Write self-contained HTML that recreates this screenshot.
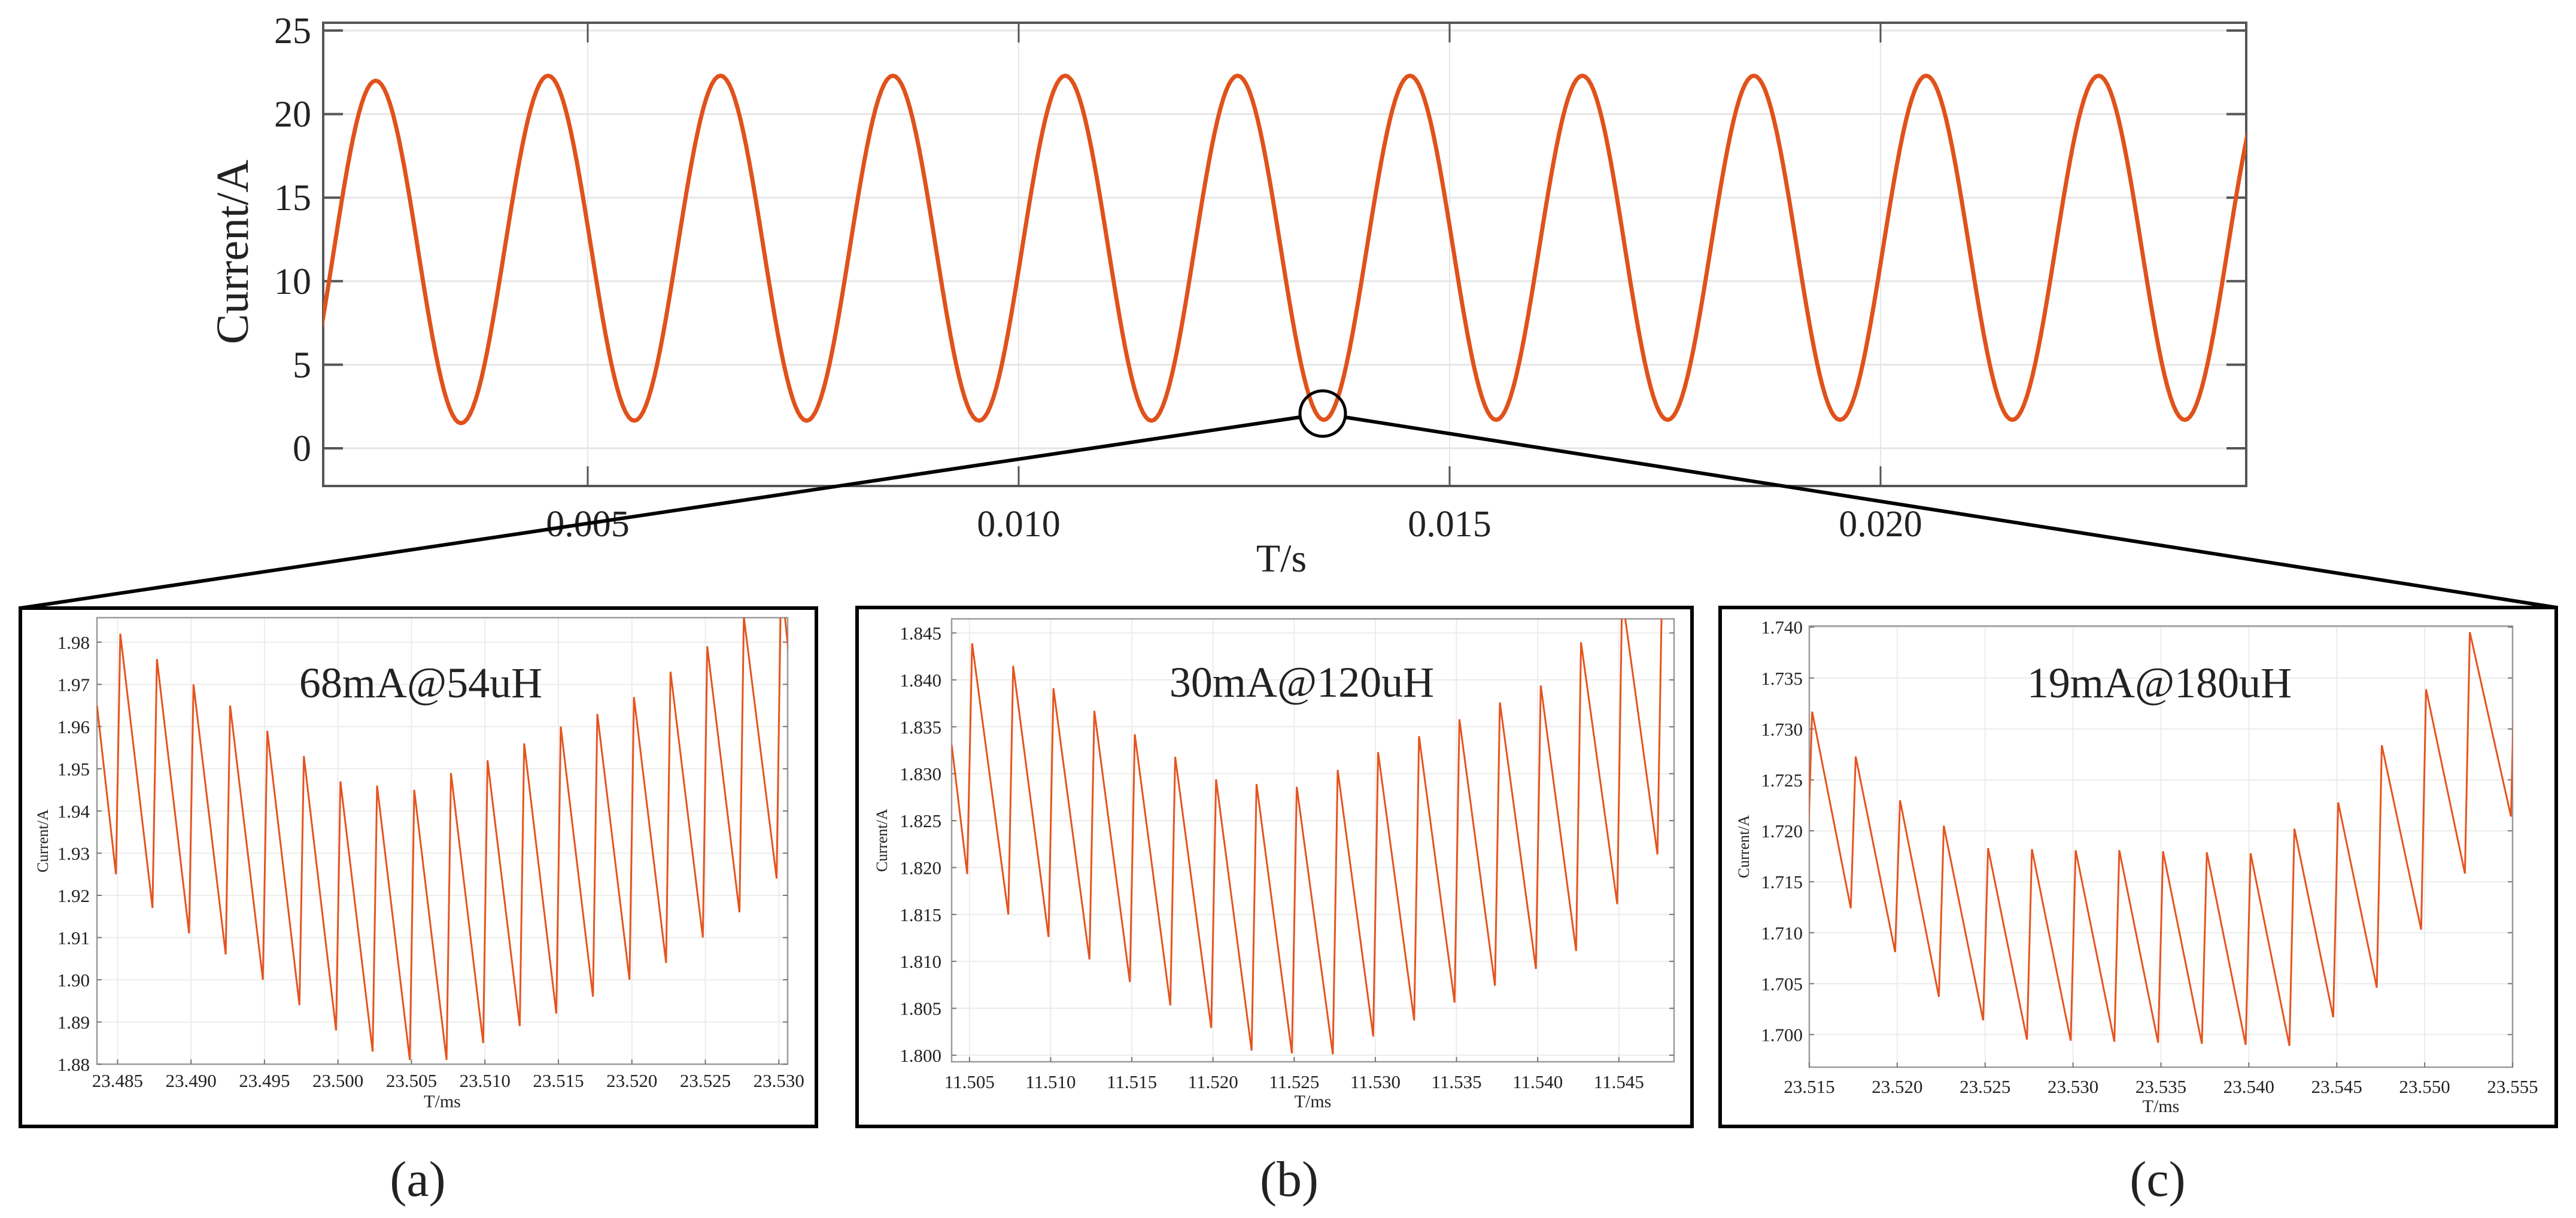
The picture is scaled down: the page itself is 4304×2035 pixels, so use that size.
<!DOCTYPE html>
<html><head><meta charset="utf-8"><style>
html,body{margin:0;padding:0;background:#fff;}
svg{display:block;}
text{font-family:"Liberation Serif","DejaVu Serif",serif;fill:#222;}
</style></head><body>
<svg id="fig" width="4304" height="2035" viewBox="0 0 4304 2035" xmlns="http://www.w3.org/2000/svg">
<defs>
<clipPath id="clipTop"><rect x="540" y="38" width="3213" height="774"/></clipPath>
<clipPath id="clipA"><rect x="162" y="1032" width="1154" height="746"/></clipPath>
<clipPath id="clipB"><rect x="1590" y="1034" width="1207" height="740"/></clipPath>
<clipPath id="clipC"><rect x="3023" y="1046" width="1175" height="737"/></clipPath>
</defs>
<g id="top"></g>
<g id="zoom">
<circle cx="2210" cy="691" r="38" fill="none" stroke="#000" stroke-width="5"/>
<line x1="2172" y1="697" x2="34" y2="1016" stroke="#000" stroke-width="6"/>
<line x1="2247" y1="697" x2="4271" y2="1015" stroke="#000" stroke-width="6"/>
</g>
<rect x="34" y="1016" width="1330" height="866" fill="none" stroke="#000" stroke-width="6"/>
<rect x="1432" y="1015" width="1395" height="867" fill="none" stroke="#000" stroke-width="6"/>
<rect x="2874" y="1015" width="1397" height="867" fill="none" stroke="#000" stroke-width="6"/>
<g id="pa"></g>
<g id="pb"></g>
<g id="pc"></g>
<text x="698" y="1998" font-size="84" text-anchor="middle">(a)</text>
<text x="2154" y="1998" font-size="84" text-anchor="middle">(b)</text>
<text x="3605" y="1998" font-size="84" text-anchor="middle">(c)</text>
</svg>
<script>
// ---- main chart data ----
const topExtT = [0.00156,0.00254,0.00353,0.00454,0.00554,0.00654,0.00754,0.00854,0.00954,0.01054,0.01154,0.01254,0.01354,0.01454,0.01554,0.01654,0.01753,0.01853,0.01953,0.02053,0.02153,0.02253,0.02353,0.02453];
const topExtV = [1.4,22.0,1.5,22.3,1.65,22.3,1.65,22.3,1.65,22.3,1.65,22.3,1.7,22.3,1.7,22.3,1.7,22.3,1.7,22.3,1.7,22.3,1.7,22.3];
const topYTicks = [0,5,10,15,20,25];
const topXTicks = [0.005,0.010,0.015,0.020];
const topXLabels = ["0.005","0.010","0.015","0.020"];

// ---- panel (a) data ----
const aTroughT = [23.48489,23.48738,23.48987,23.49236,23.49489,23.49738,23.49987,23.50236,23.50489,23.50739,23.50988,23.51237,23.51486,23.51735,23.51984,23.52233,23.52483,23.52732,23.52985,23.53234];
const aTroughV = [1.925,1.917,1.911,1.906,1.900,1.894,1.888,1.883,1.881,1.881,1.885,1.889,1.892,1.896,1.900,1.904,1.910,1.916,1.924,1.920];
const aPeakV = [1.982,1.976,1.970,1.965,1.959,1.953,1.947,1.946,1.945,1.949,1.952,1.956,1.960,1.963,1.967,1.973,1.979,1.986,1.995,1.990];
const aStart = [23.4836,1.965];
const aYTicks = [1.88,1.89,1.90,1.91,1.92,1.93,1.94,1.95,1.96,1.97,1.98];
const aXTicks = [23.485,23.490,23.495,23.500,23.505,23.510,23.515,23.520,23.525,23.530];

// ---- panel (b) data ----
const bTroughT = [11.50486,11.50739,11.50987,11.51239,11.51488,11.51737,11.51989,11.52238,11.52486,11.52738,11.52987,11.53239,11.53488,11.53737,11.53989,11.54237,11.54490,11.54738];
const bTroughV = [1.8193,1.8150,1.8126,1.8102,1.8078,1.8053,1.8029,1.8005,1.8002,1.8001,1.8020,1.8037,1.8056,1.8074,1.8092,1.8111,1.8161,1.8214];
const bPeakV = [1.8439,1.8415,1.8391,1.8367,1.8342,1.8318,1.8294,1.8289,1.8286,1.8304,1.8323,1.8340,1.8358,1.8376,1.8394,1.8440,1.8490,1.8520];
const bStart = [11.5039,1.8331];
const bYTicks = [1.800,1.805,1.810,1.815,1.820,1.825,1.830,1.835,1.840,1.845];
const bXTicks = [11.505,11.510,11.515,11.520,11.525,11.530,11.535,11.540,11.545];

// ---- panel (c) data ----
const cTroughT = [23.51488,23.51736,23.51988,23.52237,23.52489,23.52738,23.52987,23.53235,23.53484,23.53733,23.53982,23.54231,23.54480,23.54728,23.54980,23.55229,23.55491];
const cTroughV = [1.7160,1.7124,1.7081,1.7037,1.7014,1.6995,1.6994,1.6993,1.6992,1.6991,1.6990,1.6989,1.7017,1.7046,1.7103,1.7158,1.7214];
const cPeakV = [1.7317,1.7273,1.7230,1.7205,1.7183,1.7182,1.7181,1.7181,1.7180,1.7179,1.7178,1.7202,1.7228,1.7284,1.7339,1.7395,1.7420];
const cStart = [23.5147,1.7180];
const cYTicks = [1.700,1.705,1.710,1.715,1.720,1.725,1.730,1.735,1.740];
const cXTicks = [23.515,23.520,23.525,23.530,23.535,23.540,23.545,23.550,23.555];

const NS = "http://www.w3.org/2000/svg";
function mk(tag, attrs, parent){
  const e = document.createElementNS(NS, tag);
  for (const k in attrs) e.setAttribute(k, attrs[k]);
  parent.appendChild(e); return e;
}
function lin(d0,d1,r0,r1){ return v => r0 + (v-d0)/(d1-d0)*(r1-r0); }

// ---------- main chart ----------
(function(){
  const g = document.getElementById('top');
  const L=540,R=3753,T=38,B=812;
  const x = lin(0.005,0.020,982,3142);
  const y = lin(0,25,749,51);
  topYTicks.forEach(v=>{
    const gl = mk('line',{x1:L,x2:R,y1:y(v),y2:y(v),stroke:'#e6e6e6','stroke-width':3},g);
    
    
  });
  topXTicks.forEach(v=>{
    const gl = mk('line',{x1:x(v),x2:x(v),y1:T,y2:B,stroke:'#e6e6e6','stroke-width':2},g);
    
    
  });
  const fr = mk('rect',{x:L,y:T,width:R-L,height:B-T,fill:'none',stroke:'#555','stroke-width':4},g);
  
  
  topYTicks.forEach(v=>{
    mk('line',{x1:L,x2:L+33,y1:y(v),y2:y(v),stroke:'#555','stroke-width':4},g);
    mk('line',{x1:R-33,x2:R,y1:y(v),y2:y(v),stroke:'#555','stroke-width':4},g);
    const t = mk('text',{x:520,y:y(v)+21,'font-size':62,'text-anchor':'end'},g);
    
    
    t.textContent = v;
  });
  topXTicks.forEach((v,i)=>{
    mk('line',{x1:x(v),x2:x(v),y1:B-33,y2:B,stroke:'#555','stroke-width':3},g);
    mk('line',{x1:x(v),x2:x(v),y1:T,y2:T+33,stroke:'#555','stroke-width':3},g);
    const t = mk('text',{x:x(v),y:896,'font-size':62,'text-anchor':'middle'},g);
    
    
    t.textContent = topXLabels[i];
  });
  const yt = mk('text',{x:0,y:0,'font-size':76,'text-anchor':'middle',transform:'translate(414,421) rotate(-90)'},g);
  
  
  yt.textContent = 'Current/A';
  const xt = mk('text',{x:2141,y:955,'font-size':66,'text-anchor':'middle'},g);
  
  
  xt.textContent = 'T/s';
  let pts = [];
  for (let i=0;i<topExtT.length-1;i++){
    const t0=topExtT[i],t1=topExtT[i+1],v0=topExtV[i],v1=topExtV[i+1];
    for (let k=0;k<=30;k++){
      const f=k/30, s=(1-Math.cos(Math.PI*f))/2;
      pts.push(x(t0+(t1-t0)*f).toFixed(1)+','+y(v0+(v1-v0)*s).toFixed(1));
    }
  }
  const pl = mk('polyline',{points:pts.join(' '),fill:'none',stroke:'#E0521B','stroke-width':7,'stroke-linejoin':'round','clip-path':'url(#clipTop)'},g);
  
  
})();

// ---------- zoom panels ----------
function panel(id, cfg){
  const g = document.getElementById(id);
  const {L,R,T,B,xd,yd,xTicks,yTicks,dec,start,troughT,troughV,peakV,rise,clip,ylabX,ylabRight,xlabY,xtitleY,title,titleX,titleY} = cfg;
  const x = lin(xd[0],xd[1],L,R), y = lin(yd[0],yd[1],B,T);
  yTicks.forEach(v=>{
    const gl = mk('line',{x1:L,x2:R,y1:y(v),y2:y(v),stroke:'#ececec','stroke-width':2},g);
    
    
  });
  xTicks.forEach(v=>{
    const gl = mk('line',{x1:x(v),x2:x(v),y1:T,y2:B,stroke:'#ececec','stroke-width':2},g);
    
    
  });
  const fr = mk('rect',{x:L,y:T,width:R-L,height:B-T,fill:'none',stroke:'#9a9a9a','stroke-width':2.5},g);
  
  
  yTicks.forEach(v=>{
    mk('line',{x1:L,x2:L+8,y1:y(v),y2:y(v),stroke:'#777','stroke-width':2},g);
    mk('line',{x1:R-8,x2:R,y1:y(v),y2:y(v),stroke:'#777','stroke-width':2},g);
    const t = mk('text',{x:ylabRight,y:y(v)+11,'font-size':31,'text-anchor':'end'},g);
    
    
    t.textContent = v.toFixed(dec[1]);
  });
  xTicks.forEach(v=>{
    mk('line',{x1:x(v),x2:x(v),y1:B-8,y2:B,stroke:'#777','stroke-width':2},g);
    const t = mk('text',{x:x(v),y:xlabY,'font-size':31,'text-anchor':'middle'},g);
    
    
    t.textContent = v.toFixed(dec[0]);
  });
  const xt = mk('text',{x:(L+R)/2,y:xtitleY,'font-size':30,'text-anchor':'middle',fill:'#444'},g);
  
  
  xt.textContent = 'T/ms';
  const yt = mk('text',{x:0,y:0,'font-size':26,'text-anchor':'middle',fill:'#444',transform:'translate('+ylabX+','+((T+B)/2)+') rotate(-90)'},g);
  
  
  yt.textContent = 'Current/A';
  let pts = [x(start[0]).toFixed(1)+','+y(start[1]).toFixed(1)];
  for (let i=0;i<troughT.length;i++){
    pts.push(x(troughT[i]).toFixed(1)+','+y(troughV[i]).toFixed(1));
    pts.push(x(troughT[i]+rise).toFixed(1)+','+y(peakV[i]).toFixed(1));
  }
  const pl = mk('polyline',{points:pts.join(' '),fill:'none',stroke:'#E5541E','stroke-width':3,'stroke-linejoin':'miter','clip-path':'url(#'+clip+')'},g);
  
  
  const tt = mk('text',{x:titleX,y:titleY,'font-size':72,'text-anchor':'middle',fill:'#111'},g);
  
  
  tt.textContent = title;
}
panel('pa',{L:162,R:1316,T:1032,B:1778,xd:[23.4836,23.5306],yd:[1.88,1.9858],xTicks:aXTicks,yTicks:aYTicks,dec:[3,2],
  start:aStart,troughT:aTroughT,troughV:aTroughV,peakV:aPeakV,rise:0.0003,clip:'clipA',
  ylabX:80,ylabRight:150,xlabY:1816,xtitleY:1850,title:'68mA@54uH',titleX:703,titleY:1165});
panel('pb',{L:1590,R:2797,T:1034,B:1774,xd:[11.5039,11.5484],yd:[1.7993,1.8465],xTicks:bXTicks,yTicks:bYTicks,dec:[3,3],
  start:bStart,troughT:bTroughT,troughV:bTroughV,peakV:bPeakV,rise:0.0003,clip:'clipB',
  ylabX:1482,ylabRight:1573,xlabY:1818,xtitleY:1850,title:'30mA@120uH',titleX:2175,titleY:1164});
panel('pc',{L:3023,R:4198,T:1046,B:1783,xd:[23.515,23.555],yd:[1.6968,1.7401],xTicks:cXTicks,yTicks:cYTicks,dec:[3,3],
  start:cStart,troughT:cTroughT,troughV:cTroughV,peakV:cPeakV,rise:0.00028,clip:'clipC',
  ylabX:2922,ylabRight:3012,xlabY:1826,xtitleY:1858,title:'19mA@180uH',titleX:3608,titleY:1165});
</script>
</body></html>
